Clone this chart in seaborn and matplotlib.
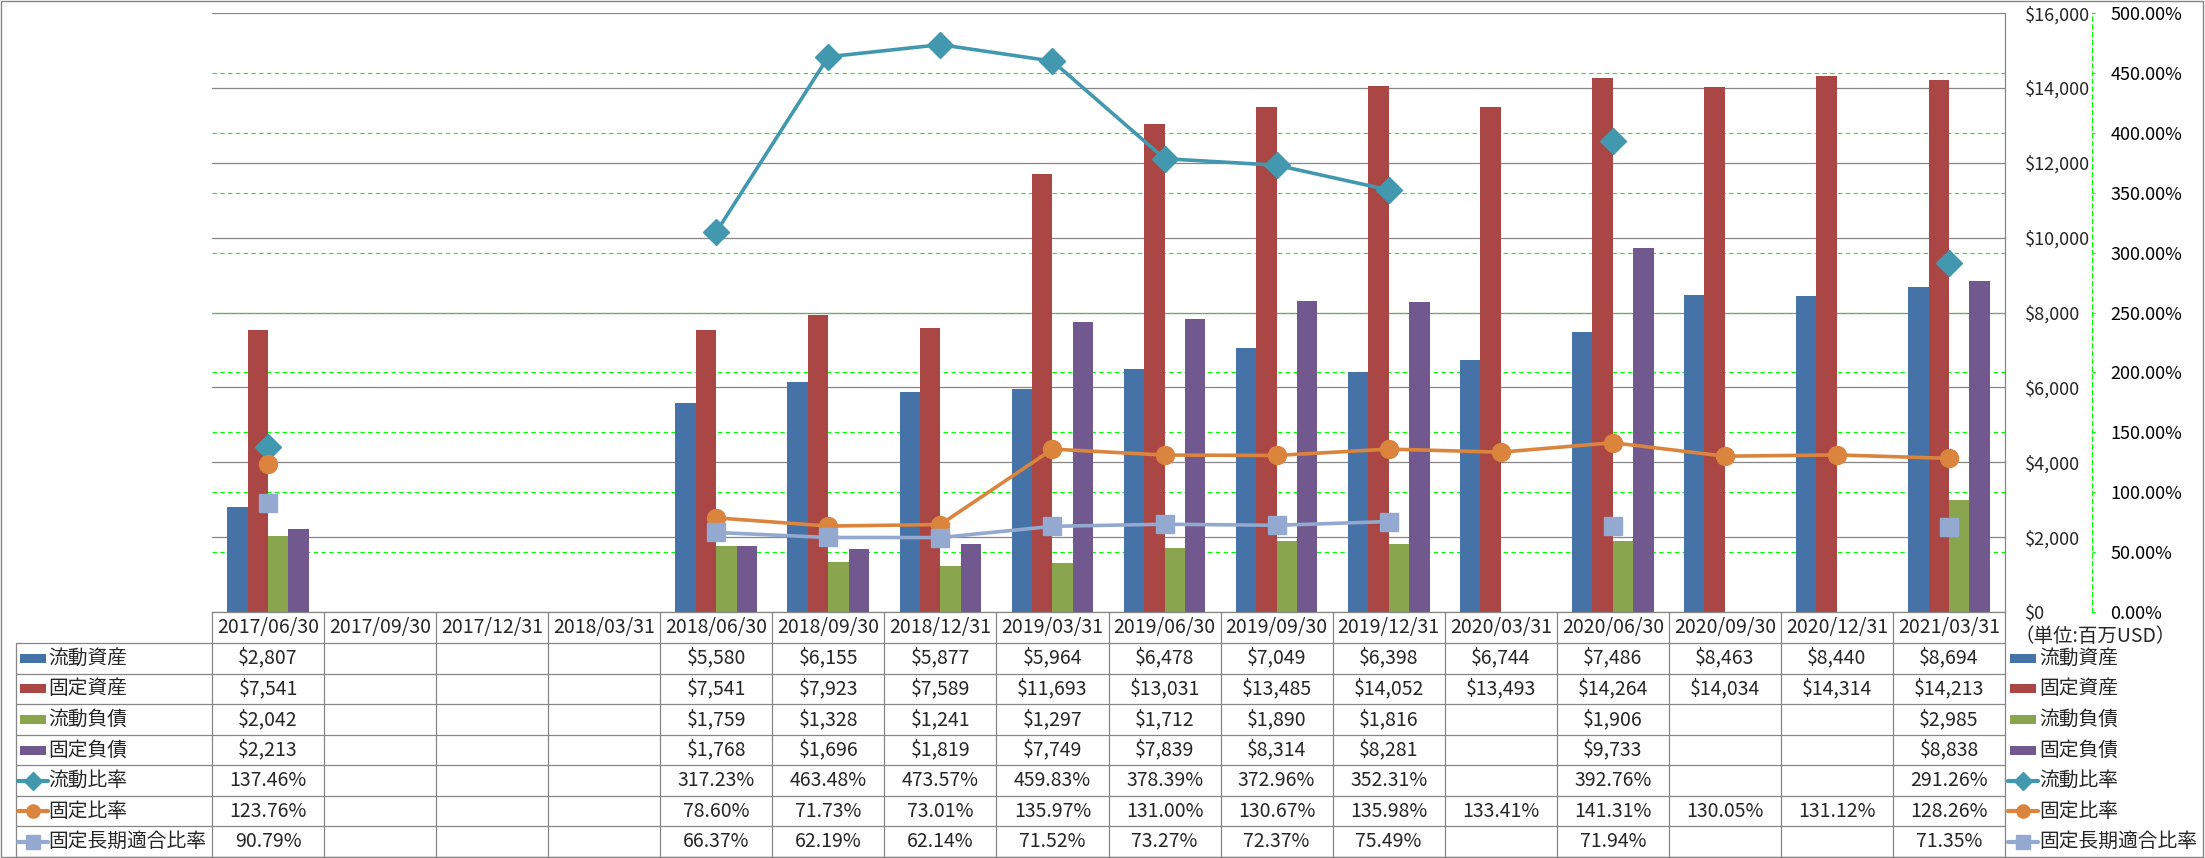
import numpy as np
import pandas as pd
import matplotlib
matplotlib.use("Agg")
import matplotlib.pyplot as plt
import seaborn as sns
from matplotlib.lines import Line2D
from matplotlib.patches import Rectangle
from matplotlib.transforms import blended_transform_factory

nan = np.nan

# data
dates = ["2017/06/30", "2017/09/30", "2017/12/31", "2018/03/31", "2018/06/30", "2018/09/30",
         "2018/12/31", "2019/03/31", "2019/06/30", "2019/09/30", "2019/12/31", "2020/03/31",
         "2020/06/30", "2020/09/30", "2020/12/31", "2021/03/31"]
current_assets = [2807, nan, nan, nan, 5580, 6155, 5877, 5964, 6478, 7049, 6398, 6744, 7486, 8463, 8440, 8694]
fixed_assets = [7541, nan, nan, nan, 7541, 7923, 7589, 11693, 13031, 13485, 14052, 13493, 14264, 14034, 14314, 14213]
current_liab = [2042, nan, nan, nan, 1759, 1328, 1241, 1297, 1712, 1890, 1816, nan, 1906, nan, nan, 2985]
fixed_liab = [2213, nan, nan, nan, 1768, 1696, 1819, 7749, 7839, 8314, 8281, nan, 9733, nan, nan, 8838]
current_ratio = [137.46, nan, nan, nan, 317.23, 463.48, 473.57, 459.83, 378.39, 372.96, 352.31, nan, 392.76, nan, nan, 291.26]
fixed_ratio = [123.76, nan, nan, nan, 78.60, 71.73, 73.01, 135.97, 131.00, 130.67, 135.98, 133.41, 141.31, 130.05, 131.12, 128.26]
fixed_lt_ratio = [90.79, nan, nan, nan, 66.37, 62.19, 62.14, 71.52, 73.27, 72.37, 75.49, nan, 71.94, nan, nan, 71.35]

bar_names = ["流動資産", "固定資産", "流動負債", "固定負債"]
line_names = ["流動比率", "固定比率", "固定長期適合比率"]
bar_colors = ["#4572A7", "#AA4643", "#89A54E", "#71588F"]
line_colors = ["#4198AF", "#DB843D", "#93A9CF"]
line_markers = ["D", "o", "s"]
marker_sizes = [13, 13, 13]
unit_note = "（単位:百万USD）"

bar_series = [current_assets, fixed_assets, current_liab, fixed_liab]
line_series = [current_ratio, fixed_ratio, fixed_lt_ratio]

W, H, DPI = 2205, 858, 100
GRAY = "#868686"
GREEN = "#00FF00"
DASH = (0, (4, 3))
AX_FS = 13
NUM_FS = 14
CJK_FS = 14.2

sns.set_style("white")
plt.rcParams["font.family"] = ["Noto Sans CJK JP", "DejaVu Sans"]


def fx(px):
    return px / W


def fy(py):
    return 1 - py / H


bars = pd.DataFrame({"date": dates, **dict(zip(bar_names, bar_series))})
bars = bars.melt(id_vars="date", var_name="item", value_name="value").dropna()

fig = plt.figure(figsize=(W / DPI, H / DPI), dpi=DPI)
ax = fig.add_axes([fx(212), fy(612), (2005 - 212) / W, (612 - 13) / H])

sns.barplot(data=bars, x="date", y="value", hue="item", order=dates, hue_order=bar_names,
            palette=bar_colors, width=0.73, saturation=1, errorbar=None, linewidth=0,
            legend=False, ax=ax)

ax.set_xlim(-0.5, len(dates) - 0.5)
ax.set_ylim(0, 16000)
ax.set_xlabel("")
ax.set_ylabel("")
ax.set_axisbelow(True)
ax.yaxis.grid(True, color=GRAY, lw=0.9)
pct_ticks = np.arange(0, 501, 50)
ax.hlines(pct_ticks[1:-1] * 16000 / 500, -0.5, len(dates) - 0.5, colors=GREEN, lw=0.8,
          linestyles=DASH, zorder=0.6)
for side in ["left", "top"]:
    ax.spines[side].set_visible(False)
for side in ["right", "bottom"]:
    ax.spines[side].set_color(GRAY)
    ax.spines[side].set_linewidth(0.9)

ax2 = ax.twinx()
ax2.set_ylim(0, 500)
ax2.set_yticks(pct_ticks)
ax2.set_yticklabels([f"{v:.2f}%" for v in pct_ticks])
for side in ["left", "top", "bottom"]:
    ax2.spines[side].set_visible(False)
ax2.spines["right"].set_position(("outward", 87 * 72 / DPI))
ax2.spines["right"].set_color(GREEN)
ax2.spines["right"].set_linestyle(DASH)
ax2.spines["right"].set_linewidth(0.8)
ax2.tick_params(axis="y", length=2.2, width=0.8, color=GREEN, labelcolor="black",
                pad=11, labelsize=AX_FS)
ax2.grid(False)

# $ axis labels sit on the right of the plot (twinx moved them left)
ax.yaxis.tick_right()
ax.set_yticks(range(0, 16001, 2000))
ax.set_yticklabels([f"${v:,}" for v in range(0, 16001, 2000)])
ax.tick_params(axis="y", length=0, pad=14, labelsize=AX_FS, labelleft=False,
               labelright=True)
ax.tick_params(axis="x", length=0, labelbottom=False)

xpos = np.arange(len(dates))
for vals, c, m, ms in zip(line_series, line_colors, line_markers, marker_sizes):
    ax2.plot(xpos, vals, color=c, lw=2.6, marker=m, ms=ms, mec=c, mfc=c, zorder=3)

# data table under the plot
trans = blended_transform_factory(ax.transData, fig.transFigure)
top, head_bot, bot = 612, 643, 857
row_h = (bot - head_bot) / 7

for i in range(len(dates) + 1):
    fig.add_artist(Line2D([i - 0.5, i - 0.5], [fy(top), fy(bot)], transform=trans,
                          color=GRAY, lw=0.9))
fig.add_artist(Line2D([fx(16), fx(16)], [fy(head_bot), fy(bot)], color=GRAY, lw=0.9))
for k in range(8):
    yy = head_bot + k * row_h
    fig.add_artist(Line2D([fx(16), fx(2005)], [fy(yy), fy(yy)], color=GRAY, lw=0.9))

for i, d in enumerate(dates):
    fig.text(i, fy((top + head_bot) / 2), d, transform=trans, ha="center", va="center",
             fontsize=NUM_FS)

rows = [(s, "${:,.0f}") for s in bar_series] + [(s, "{:.2f}%") for s in line_series]
for r, (vals, fmt) in enumerate(rows):
    yc = head_bot + (r + 0.5) * row_h
    for i, v in enumerate(vals):
        if not np.isnan(v):
            fig.text(i, fy(yc), fmt.format(v), transform=trans, ha="center", va="center",
                     fontsize=NUM_FS)


def legend_key(x0, yc, r):
    if r < 4:
        fig.add_artist(Rectangle((fx(x0), fy(yc + 4.5)), 26 / W, 9 / H,
                                 color=bar_colors[r], lw=0))
    else:
        j = r - 4
        fig.add_artist(Line2D([fx(x0 - 2), fx(x0 + 28)], [fy(yc), fy(yc)],
                              color=line_colors[j], lw=3))
        fig.add_artist(Line2D([fx(x0 + 13)], [fy(yc)], color=line_colors[j],
                              marker=line_markers[j], ms=9.5, mec=line_colors[j]))


names = bar_names + line_names
for r, name in enumerate(names):
    yc = head_bot + (r + 0.5) * row_h
    legend_key(20, yc, r)
    fig.text(fx(48), fy(yc), name, ha="left", va="center", fontsize=CJK_FS)
    legend_key(2010, yc, r)
    fig.text(fx(2039), fy(yc), name, ha="left", va="center", fontsize=CJK_FS)

fig.text(fx(2014), fy(636), unit_note, ha="left", va="center", fontsize=14)

fig.add_artist(Rectangle((fx(1), fy(857)), 2202 / W, 856 / H, fill=False,
                         ec=GRAY, lw=1))

fig.savefig("out.png", dpi=DPI)
